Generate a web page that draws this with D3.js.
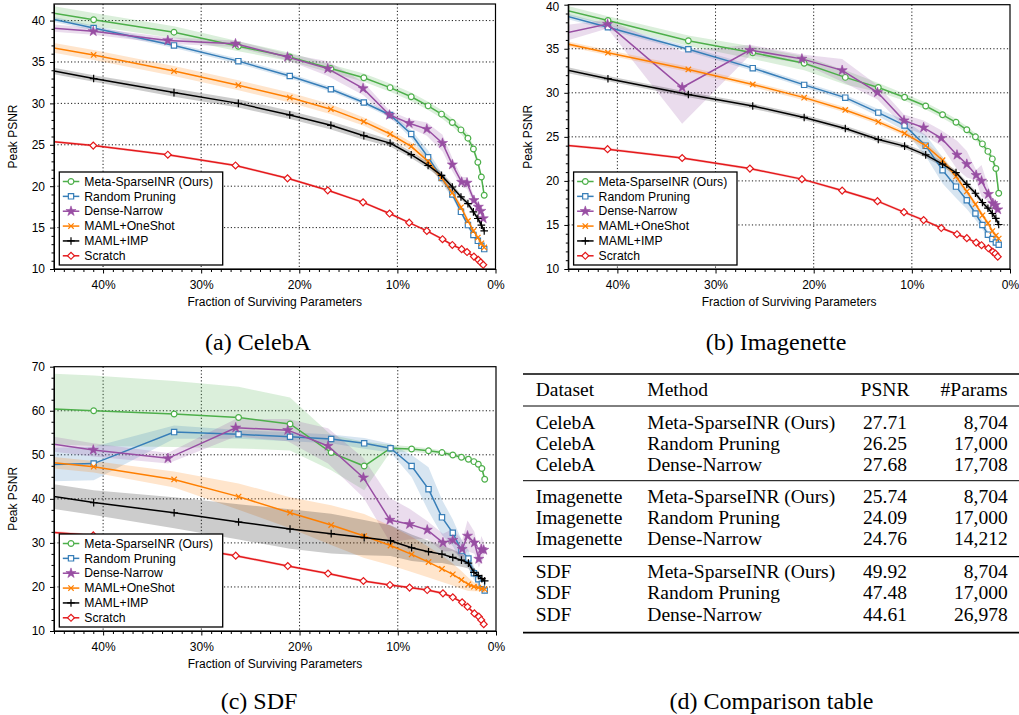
<!DOCTYPE html>
<html>
<head>
<meta charset="utf-8">
<script src="https://cdn.jsdelivr.net/npm/d3@7"></script>
<style>
  body { margin: 0; background: #fff; }
  svg { display: block; }
</style>
</head>
<body>
<div id="chart"></div>
<script>
// fraction of surviving parameters (%) for each pruning step
const xPruned = [51.2, 40.96, 32.77, 26.21, 20.97, 16.78, 13.42, 10.74, 8.59, 6.87, 5.50, 4.40, 3.52, 2.81, 2.25, 1.80, 1.44, 1.15];
const xDense = [51.5, 41.0, 33.4, 26.5, 21.2, 17.1, 13.5, 10.8, 8.8, 7.0, 5.4, 4.4, 3.45, 2.9, 2.2, 1.75, 1.5, 1.25];

const methods = ["Meta-SparseINR (Ours)", "Random Pruning", "Dense-Narrow", "MAML+OneShot", "MAML+IMP", "Scratch"];
const colors = ["#4daf4a", "#377eb8", "#984ea3", "#ff7f00", "#000000", "#e41a1c"];
const markers = ["circle", "square", "star", "x", "plus", "diamond"];
const methodX = [xPruned, xPruned, xDense, xPruned, xPruned, xDense];

// (a) CelebA
const celebaMeta = [42.1, 40.1, 38.6, 36.9, 35.6, 34.2, 33.1, 31.9, 30.8, 29.7, 28.7, 27.7, 26.8, 25.8, 24.5, 22.9, 21.1, 18.9];
const celebaMetaSd = [0.9, 0.8, 0.7, 0.6, 0.5, 0.5, 0.5, 0.5, 0.5, 0.5, 0.5, 0.5, 0.5, 0.5, 0.4, 0.4, 0.4, 0.4];
const celebaRandom = [41.7, 39.1, 37.0, 35.1, 33.3, 31.7, 30.1, 28.6, 26.3, 23.5, 21.0, 19.0, 16.9, 15.3, 14.1, 13.4, 12.8, 12.4];
const celebaRandomSd = [0.3, 0.3, 0.3, 0.3, 0.3, 0.3, 0.3, 0.3, 0.5, 0.8, 0.6, 0.4, 0.3, 0.3, 0.3, 0.3, 0.3, 0.3];
const celebaDense = [39.7, 38.7, 37.6, 37.2, 35.6, 34.2, 31.8, 28.6, 27.6, 26.9, 25.2, 22.6, 20.5, 20.4, 18.3, 17.5, 17.0, 16.1];
const celebaDenseSd = [0.5, 0.4, 0.4, 0.4, 0.4, 0.9, 0.8, 0.5, 0.5, 0.8, 1.0, 0.8, 0.6, 0.7, 0.5, 0.5, 0.5, 0.5];
const celebaOneShot = [38.0, 35.85, 33.9, 32.2, 30.7, 29.3, 27.8, 26.3, 24.8, 23.0, 21.0, 19.2, 17.45, 15.8, 14.6, 13.8, 13.1, 12.6];
const celebaOneShotSd = [0.6, 0.6, 0.6, 0.6, 0.6, 0.6, 0.5, 0.5, 0.5, 0.5, 0.5, 0.4, 0.4, 0.4, 0.3, 0.3, 0.3, 0.3];
const celebaImp = [35.3, 33.0, 31.3, 30.0, 28.6, 27.35, 26.1, 25.2, 23.8, 22.5, 21.3, 19.9, 18.7, 17.9, 16.9, 16.1, 15.3, 14.6];
const celebaImpSd = [0.4, 0.4, 0.5, 0.5, 0.5, 0.5, 0.5, 0.4, 0.4, 0.4, 0.4, 0.4, 0.3, 0.3, 0.3, 0.3, 0.3, 0.3];
const celebaScratch = [26.15, 24.9, 23.8, 22.5, 20.95, 19.5, 18.05, 16.7, 15.6, 14.6, 13.6, 12.9, 12.4, 12.05, 11.5, 11.1, 10.8, 10.5];
const celebaScratchSd = [0.15, 0.15, 0.15, 0.15, 0.15, 0.15, 0.15, 0.15, 0.15, 0.15, 0.15, 0.15, 0.15, 0.15, 0.15, 0.15, 0.15, 0.15];

// (b) Imagenette
const imnetMeta = [41.0, 38.2, 35.9, 34.55, 33.35, 31.75, 30.6, 29.5, 28.5, 27.5, 26.65, 25.8, 25.0, 24.2, 23.35, 22.5, 21.4, 18.6];
const imnetMetaSd = [0.6, 0.5, 0.6, 0.7, 0.8, 0.8, 0.5, 0.4, 0.4, 0.4, 0.4, 0.4, 0.4, 0.4, 0.4, 0.4, 0.5, 0.6];
const imnetRandom = [40.5, 37.45, 34.95, 32.8, 30.9, 29.45, 27.75, 26.3, 24.0, 21.2, 19.35, 17.8, 16.3, 15.0, 13.9, 13.4, 13.0, 12.75];
const imnetRandomSd = [0.3, 0.3, 0.3, 0.3, 0.3, 0.3, 0.4, 0.6, 1.2, 1.5, 1.3, 1.0, 0.7, 0.5, 0.4, 0.3, 0.3, 0.3];
const imnetDense = [35.3, 37.8, 30.6, 34.85, 33.85, 32.55, 30.05, 26.85, 26.05, 24.85, 22.95, 21.9, 20.65, 20.0, 18.5, 17.45, 17.25, 16.75];
const imnetDenseSd = [1.5, 0.5, 4.1, 0.6, 0.5, 1.3, 0.8, 0.7, 0.8, 0.9, 1.6, 1.5, 0.6, 1.8, 0.8, 0.6, 0.6, 0.5];
const imnetOneShot = [37.0, 34.55, 32.65, 30.95, 29.45, 28.05, 26.7, 25.4, 24.0, 22.35, 20.5, 18.8, 17.35, 16.1, 15.2, 14.3, 13.8, 13.45];
const imnetOneShotSd = [0.3, 0.3, 0.3, 0.3, 0.3, 0.3, 0.3, 0.3, 0.4, 0.4, 0.4, 0.3, 0.3, 0.3, 0.3, 0.3, 0.3, 0.3];
const imnetImp = [34.0, 31.6, 29.8, 28.5, 27.2, 25.95, 24.7, 23.95, 22.95, 21.9, 20.95, 19.6, 18.6, 17.55, 16.9, 16.3, 15.75, 15.05];
const imnetImpSd = [0.4, 0.3, 0.3, 0.3, 0.3, 0.3, 0.3, 0.3, 0.3, 0.3, 0.3, 0.3, 0.3, 0.3, 0.3, 0.3, 0.3, 0.3];
const imnetScratch = [24.7, 23.6, 22.6, 21.4, 20.2, 18.9, 17.7, 16.45, 15.55, 14.65, 13.95, 13.5, 13.0, 12.7, 12.35, 11.95, 11.75, 11.4];
const imnetScratchSd = [0.15, 0.15, 0.15, 0.15, 0.15, 0.15, 0.15, 0.15, 0.15, 0.15, 0.15, 0.15, 0.15, 0.15, 0.15, 0.15, 0.15, 0.15];

// (c) SDF
const sdfMeta = [61.0, 60.0, 59.25, 58.45, 57.0, 50.5, 47.45, 51.5, 51.3, 50.9, 50.5, 49.95, 49.45, 49.0, 48.45, 47.85, 46.9, 44.45];
const sdfMetaSd = [8.0, 8.0, 7.5, 7.0, 6.0, 4.0, 5.5, 0.8, 0.6, 0.6, 0.5, 0.5, 0.5, 0.6, 0.6, 0.7, 0.7, 0.8];
const sdfRandom = [47.5, 48.0, 55.15, 54.65, 54.1, 53.6, 52.6, 51.5, 47.45, 42.2, 35.8, 32.3, 28.25, 26.45, 23.1, 21.75, 20.7, 19.2];
const sdfRandomSd = [3.8, 3.8, 1.5, 1.0, 1.0, 1.0, 1.2, 1.0, 2.5, 5.0, 4.0, 3.0, 2.5, 2.0, 1.5, 1.2, 1.0, 1.0];
const sdfDense = [54.5, 51.1, 49.2, 56.15, 55.6, 52.0, 44.8, 35.2, 34.25, 32.95, 30.05, 30.65, 28.6, 31.6, 30.05, 26.35, 28.55, 28.4];
const sdfDenseSd = [2.0, 1.5, 1.2, 2.0, 2.5, 4.0, 4.5, 5.0, 3.5, 2.0, 2.0, 2.5, 2.0, 3.5, 2.5, 2.0, 3.0, 2.0];
const sdfOneShot = [49.6, 47.3, 44.4, 40.5, 36.85, 34.05, 31.55, 29.4, 27.4, 25.65, 24.1, 22.85, 21.6, 20.6, 20.05, 19.85, 19.6, 19.45];
const sdfOneShotSd = [1.3, 1.3, 1.8, 3.0, 3.5, 4.5, 5.0, 4.5, 4.0, 3.5, 3.0, 2.5, 2.0, 1.5, 1.0, 0.8, 0.6, 0.5];
const sdfImp = [42.6, 39.15, 36.85, 34.75, 33.15, 32.1, 31.2, 30.5, 28.9, 28.0, 27.45, 26.7, 26.1, 25.4, 23.3, 22.6, 21.9, 21.4];
const sdfImpSd = [2.8, 2.8, 3.5, 4.0, 4.5, 4.5, 4.0, 3.5, 3.0, 2.5, 2.0, 1.8, 1.5, 1.2, 1.0, 0.8, 0.6, 0.5];
const sdfScratch = [33.5, 31.7, 29.6, 27.1, 24.75, 23.05, 21.35, 20.45, 19.85, 19.3, 18.55, 17.65, 16.5, 15.5, 14.0, 13.25, 12.5, 11.55];
const sdfScratchSd = [0.3, 0.3, 0.3, 0.3, 0.3, 0.3, 0.3, 0.3, 0.3, 0.3, 0.3, 0.3, 0.3, 0.3, 0.3, 0.3, 0.3, 0.3];

// ticks
const xTickValues = [40, 30, 20, 10, 0];
const xTickLabels = ["40%", "30%", "20%", "10%", "0%"];
const psnrTicks = [10, 15, 20, 25, 30, 35, 40];
const sdfTicks = [10, 20, 30, 40, 50, 60, 70];

// (d) table
const tableHeader = ["Dataset", "Method", "PSNR", "#Params"];
const tableDatasets = ["CelebA", "CelebA", "CelebA", "Imagenette", "Imagenette", "Imagenette", "SDF", "SDF", "SDF"];
const tableMethods = ["Meta-SparseINR (Ours)", "Random Pruning", "Dense-Narrow", "Meta-SparseINR (Ours)", "Random Pruning", "Dense-Narrow", "Meta-SparseINR (Ours)", "Random Pruning", "Dense-Narrow"];
const tablePsnr = ["27.71", "26.25", "27.68", "25.74", "24.09", "24.76", "49.92", "47.48", "44.61"];
const tableParams = ["8,704", "17,000", "17,708", "8,704", "17,000", "14,212", "8,704", "17,000", "26,978"];

const sans = "'Liberation Sans', Arial, Helvetica, sans-serif";
const serif = "'Liberation Serif', 'Times New Roman', Times, serif";

const svg = d3.select("#chart").append("svg")
    .attr("width", 1019)
    .attr("height", 715);
const defs = svg.append("defs");

function markerShape(type) {
    if (type === "circle") return d3.symbol(d3.symbolCircle, 26)();
    if (type === "square") return d3.symbol(d3.symbolSquare, 28)();
    if (type === "diamond") return d3.symbol(d3.symbolSquare, 24)();
    if (type === "star") return d3.symbol(d3.symbolStar, 32)();
    if (type === "x") return "M-2.7,-2.7L2.7,2.7M-2.7,2.7L2.7,-2.7";
    return "M-3.8,0H3.8M0,-3.8V3.8";
}

function drawMarker(g, type, color, px, py) {
    const open = ["circle", "square", "diamond"].includes(type);
    g.append("path")
        .attr("d", markerShape(type))
        .attr("transform", `translate(${px},${py})` + (type === "diamond" ? " rotate(45)" : ""))
        .attr("fill", type === "star" ? color : (open ? "#fff" : "none"))
        .attr("stroke", color)
        .attr("stroke-width", type === "star" ? 0.6 : 1.2);
}

function drawPanel(p) {
    const x = d3.scaleLinear().domain([45, 0]).range([p.left, p.right]);
    const y = d3.scaleLinear().domain(p.yDomain).range([p.bottom, p.top]);
    const g = svg.append("g");

    defs.append("clipPath").attr("id", "clip-" + p.id)
        .append("rect")
        .attr("x", p.left).attr("y", p.top)
        .attr("width", p.right - p.left).attr("height", p.bottom - p.top);

    // dotted grid
    const grid = g.append("g")
        .attr("stroke", "#000")
        .attr("stroke-width", 0.9)
        .attr("stroke-dasharray", "1.2,2.2");
    xTickValues.filter(v => v > 0 && v < 45).forEach(v => {
        grid.append("line").attr("x1", x(v)).attr("x2", x(v)).attr("y1", p.top).attr("y2", p.bottom);
    });
    p.yTicks.filter(v => v > p.yDomain[0] && v < p.yDomain[1]).forEach(v => {
        grid.append("line").attr("x1", p.left).attr("x2", p.right).attr("y1", y(v)).attr("y2", y(v));
    });

    const plot = g.append("g").attr("clip-path", `url(#clip-${p.id})`);

    // std bands
    methods.forEach((m, i) => {
        const pts = methodX[i].map((xv, j) => ({ x: xv, y: p.means[i][j], s: p.sds[i][j] }));
        plot.append("path")
            .datum(pts)
            .attr("d", d3.area().x(d => x(d.x)).y0(d => y(d.y - d.s)).y1(d => y(d.y + d.s)))
            .attr("fill", colors[i])
            .attr("fill-opacity", 0.2);
    });

    // lines + markers
    methods.forEach((m, i) => {
        const pts = methodX[i].map((xv, j) => ({ x: xv, y: p.means[i][j] }));
        plot.append("path")
            .datum(pts)
            .attr("d", d3.line().x(d => x(d.x)).y(d => y(d.y)))
            .attr("fill", "none")
            .attr("stroke", colors[i])
            .attr("stroke-width", 1.5);
        pts.forEach(d => drawMarker(plot, markers[i], colors[i], x(d.x), y(d.y)));
    });

    // axes
    const minorX = d3.range(45, 0, -1).filter(v => v % 10 !== 0);
    g.append("g")
        .attr("transform", `translate(0,${p.bottom})`)
        .call(d3.axisBottom(x).tickValues(xTickValues).tickFormat((d, i) => xTickLabels[i]).tickSize(4.5).tickPadding(7).tickSizeOuter(0));
    g.append("g")
        .attr("transform", `translate(0,${p.bottom})`)
        .call(d3.axisBottom(x).tickValues(minorX).tickFormat("").tickSize(3).tickSizeOuter(0))
        .select(".domain").remove();

    const minorY = d3.range(p.yDomain[0], p.yDomain[1], p.yMinor).filter(v => !p.yTicks.includes(v));
    const yAxis = g.append("g")
        .attr("transform", `translate(${p.left},0)`)
        .call(d3.axisLeft(y).tickValues(p.yTicks).tickSize(4).tickPadding(5).tickSizeOuter(0));
    g.append("g")
        .attr("transform", `translate(${p.left},0)`)
        .call(d3.axisLeft(y).tickValues(minorY).tickFormat("").tickSize(2.5).tickSizeOuter(0))
        .select(".domain").remove();

    g.selectAll(".tick text").attr("font-family", sans).attr("font-size", 12).attr("fill", "#000");
    g.selectAll(".tick line").attr("stroke", "#000");
    // keep a label that sits on the page edge inside it
    yAxis.selectAll(".tick text").filter(d => y(d) < 6).attr("dy", "0.5em");

    // frame
    g.append("rect")
        .attr("x", p.left).attr("y", p.top)
        .attr("width", p.right - p.left).attr("height", p.bottom - p.top)
        .attr("fill", "none").attr("stroke", "#000").attr("stroke-width", 1.2);

    g.append("text")
        .attr("x", (p.left + p.right) / 2)
        .attr("y", p.bottom + 37)
        .attr("text-anchor", "middle")
        .attr("font-family", sans).attr("font-size", 12)
        .text("Fraction of Surviving Parameters");

    g.append("text")
        .attr("transform", `translate(${p.left - 41},${(p.top + p.bottom) / 2}) rotate(-90)`)
        .attr("text-anchor", "middle")
        .attr("dy", "0.35em")
        .attr("font-family", sans).attr("font-size", 12)
        .text("Peak PSNR");

    // legend
    const lx = p.left + 5.3, ly = p.bottom - 97, lw = 163.4, lh = 93;
    const leg = g.append("g");
    leg.append("rect")
        .attr("x", lx).attr("y", ly).attr("width", lw).attr("height", lh)
        .attr("fill", "#fff").attr("stroke", "#000").attr("stroke-width", 1.3);
    methods.forEach((m, i) => {
        const cy = ly + 9.5 + i * 14.86;
        leg.append("line")
            .attr("x1", lx + 3.5).attr("x2", lx + 20)
            .attr("y1", cy).attr("y2", cy)
            .attr("stroke", colors[i]).attr("stroke-width", 1.5);
        drawMarker(leg, markers[i], colors[i], lx + 11.7, cy);
        leg.append("text")
            .attr("x", lx + 25).attr("y", cy)
            .attr("dy", "0.35em")
            .attr("font-family", sans).attr("font-size", 12.2)
            .text(m);
    });

    svg.append("text")
        .attr("x", p.captionX).attr("y", p.captionY)
        .attr("text-anchor", "middle")
        .attr("font-family", serif).attr("font-size", 24)
        .text(p.caption);
}

drawPanel({
    id: "a", left: 54, right: 495.5, top: 4, bottom: 269,
    yDomain: [10, 42], yTicks: psnrTicks, yMinor: 1,
    means: [celebaMeta, celebaRandom, celebaDense, celebaOneShot, celebaImp, celebaScratch],
    sds: [celebaMetaSd, celebaRandomSd, celebaDenseSd, celebaOneShotSd, celebaImpSd, celebaScratchSd],
    caption: "(a) CelebA", captionX: 258, captionY: 350
});

drawPanel({
    id: "b", left: 568.3, right: 1010, top: 4.7, bottom: 269,
    yDomain: [10, 40], yTicks: psnrTicks, yMinor: 1,
    means: [imnetMeta, imnetRandom, imnetDense, imnetOneShot, imnetImp, imnetScratch],
    sds: [imnetMetaSd, imnetRandomSd, imnetDenseSd, imnetOneShotSd, imnetImpSd, imnetScratchSd],
    caption: "(b) Imagenette", captionX: 776, captionY: 350
});

drawPanel({
    id: "c", left: 54, right: 496, top: 366.7, bottom: 631,
    yDomain: [10, 70], yTicks: sdfTicks, yMinor: 2.5,
    means: [sdfMeta, sdfRandom, sdfDense, sdfOneShot, sdfImp, sdfScratch],
    sds: [sdfMetaSd, sdfRandomSd, sdfDenseSd, sdfOneShotSd, sdfImpSd, sdfScratchSd],
    caption: "(c) SDF", captionX: 259, captionY: 709
});

// (d) comparison table
const table = svg.append("g")
    .attr("font-family", serif)
    .attr("font-size", 19.5)
    .attr("fill", "#000");

const rules = [
    { y: 374, w: 1.6 },
    { y: 406, w: 1 },
    { y: 480.7, w: 1 },
    { y: 556.7, w: 1.3 },
    { y: 632.7, w: 1.8 }
];
rules.forEach(r => {
    table.append("line")
        .attr("x1", 523).attr("x2", 1019)
        .attr("y1", r.y).attr("y2", r.y)
        .attr("stroke", "#000").attr("stroke-width", r.w);
});

const colX = [535.7, 647.3, 885, 1007.7];
const colAnchor = ["start", "start", "middle", "end"];
tableHeader.forEach((h, i) => {
    table.append("text")
        .attr("x", colX[i]).attr("y", 396)
        .attr("text-anchor", colAnchor[i])
        .text(h);
});

const rowBase = [428.5, 449.6, 470.8, 502.5, 523.8, 545, 578, 599.2, 620.6];
tableDatasets.forEach((d, r) => {
    const cells = [d, tableMethods[r], tablePsnr[r], tableParams[r]];
    cells.forEach((c, i) => {
        table.append("text")
            .attr("x", colX[i]).attr("y", rowBase[r])
            .attr("text-anchor", colAnchor[i])
            .text(c);
    });
});

svg.append("text")
    .attr("x", 771.5).attr("y", 709)
    .attr("text-anchor", "middle")
    .attr("font-family", serif).attr("font-size", 24)
    .text("(d) Comparison table");
</script>
</body>
</html>
